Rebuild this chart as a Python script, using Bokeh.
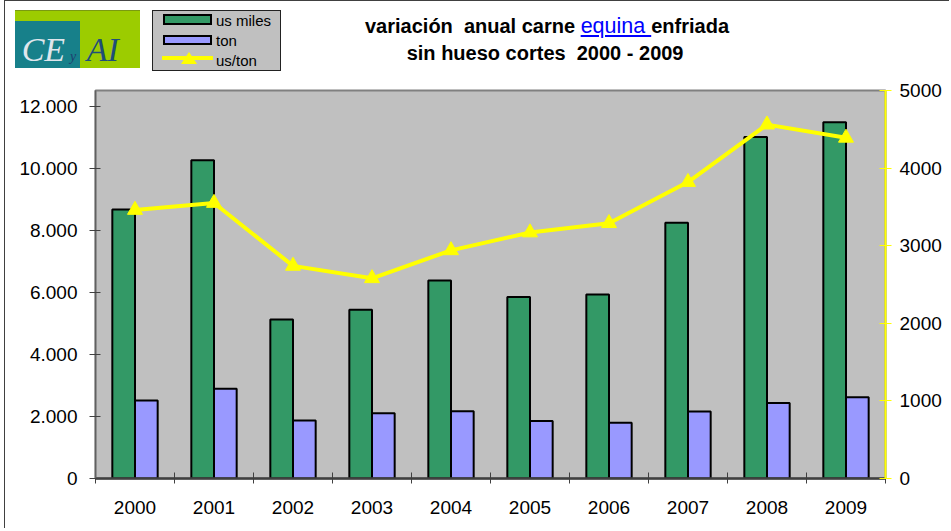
from bokeh.plotting import figure
from bokeh.models import Range1d, LinearAxis, FixedTicker, ColumnDataSource, Div
from bokeh.transform import dodge
from bokeh.layouts import column
from bokeh.embed import file_html
from bokeh.resources import INLINE

# ---------------- data ----------------
years = ["2000", "2001", "2002", "2003", "2004", "2005", "2006", "2007", "2008", "2009"]
us_miles = [8670, 10250, 5120, 5440, 6380, 5850, 5930, 8240, 11000, 11480]
ton = [2510, 2890, 1870, 2100, 2170, 1850, 1800, 2160, 2430, 2620]
us_ton = [3460, 3550, 2740, 2580, 2940, 3170, 3290, 3820, 4560, 4390]

left_ticks = [0, 2000, 4000, 6000, 8000, 10000, 12000]
left_tick_labels = ["0", "2.000", "4.000", "6.000", "8.000", "10.000", "12.000"]
right_ticks = [0, 1000, 2000, 3000, 4000, 5000]
legend_labels = ["us miles", "ton", "us/ton"]
title_line1 = ("variación  anual carne ", "equina ", "enfriada")
title_line2 = "sin hueso cortes  2000 - 2009"

FONT_NAME = "Liberation Sans"
GREEN = "#339966"
BLUE = "#9999ff"
YELLOW = "#ffff00"
W = 944
HH = 72

idx = list(range(len(years)))
src = ColumnDataSource(dict(idx=idx, miles=us_miles, ton=ton, uston=us_ton))

# ---------------- main chart ----------------
p = figure(width=W, height=455, x_range=Range1d(-0.5, len(years) - 0.5),
           y_range=Range1d(0, 12500), output_backend="svg", toolbar_location=None,
           min_border_left=90, min_border_right=64, min_border_top=17, min_border_bottom=50,
           background_fill_color="#c0c0c0", border_fill_color="white",
           outline_line_color="#808080", outline_line_width=2)
p.extra_y_ranges = {"r": Range1d(0, 5000)}
p.grid.visible = False

p.vbar(x=dodge("idx", -0.1435), top="miles", width=0.287, source=src,
       fill_color=GREEN, line_color="black", line_width=2)
p.vbar(x=dodge("idx", 0.1435), top="ton", width=0.287, source=src,
       fill_color=BLUE, line_color="black", line_width=2)
p.line(x="idx", y="uston", source=src, y_range_name="r", line_color=YELLOW, line_width=4)
p.scatter(x="idx", y="uston", source=src, y_range_name="r", marker="triangle", size=15,
          fill_color=YELLOW, line_color=YELLOW)

xa = p.xaxis[0]
xa.ticker = FixedTicker(ticks=idx, minor_ticks=[i - 0.5 for i in range(len(years) + 1)])
xa.major_label_overrides = {i: y for i, y in zip(idx, years)}
xa.major_tick_line_color = None
xa.minor_tick_in = 6
xa.minor_tick_out = 5
xa.minor_tick_line_color = "#404040"
xa.axis_line_color = "#404040"
xa.axis_line_width = 2.5
xa.major_label_standoff = 16
xa.major_label_text_font = FONT_NAME
xa.major_label_text_font_size = "19px"
xa.major_label_text_color = "black"

ya = p.yaxis[0]
ya.ticker = FixedTicker(ticks=left_ticks)
ya.major_label_overrides = {t: s for t, s in zip(left_ticks, left_tick_labels)}
ya.major_tick_in = 5
ya.major_tick_out = 6
ya.major_tick_line_color = "#404040"
ya.minor_tick_line_color = None
ya.axis_line_color = "#606060"
ya.axis_line_width = 1.5
ya.major_label_standoff = 12
ya.major_label_text_font = FONT_NAME
ya.major_label_text_font_size = "19px"
ya.major_label_text_color = "black"

ra = LinearAxis(y_range_name="r", ticker=FixedTicker(ticks=right_ticks))
ra.axis_line_color = YELLOW
ra.axis_line_width = 2
ra.major_tick_line_color = YELLOW
ra.major_tick_in = 6
ra.major_tick_out = 6
ra.minor_tick_line_color = None
ra.major_label_standoff = 8
ra.major_label_text_font = FONT_NAME
ra.major_label_text_font_size = "19px"
ra.major_label_text_color = "black"
p.add_layout(ra, "right")

# ---------------- header (logo, legend, title) as HTML ----------------


def box(left, top, w, h, extra):
    return (f'<div style="position:absolute;left:{left}px;top:{top}px;width:{w}px;'
            f'height:{h}px;box-sizing:border-box;{extra}"></div>')


def txt(left, top, s, extra):
    return (f'<span style="position:absolute;left:{left}px;top:{top}px;white-space:pre;'
            f'{extra}">{s}</span>')


serif = "font-family:'Liberation Serif',serif;font-style:italic;"
sans = f"font-family:'{FONT_NAME}',Arial,sans-serif;"

parts = []
# logo
parts.append(box(10.3, 9, 124.7, 58.3, "background:#9ccc00;border-top:1px solid #7a9a10;"))
parts.append(box(10.3, 19.7, 64.7, 47.6, "background:#17808a;"))
parts.append(txt(16.7, 32.2, "CE", serif + "font-size:34px;line-height:34px;color:#dfe6ec;"))
parts.append(txt(65, 49, "y", serif + "font-size:14px;line-height:14px;color:#1f3f6f;"))
parts.append(txt(81.7, 32.2, "AI", serif + "font-size:34px;line-height:34px;color:#1f4e79;"))
# legend
parts.append(box(147, 9, 129, 61, "background:#c0c0c0;border:1.5px solid #222;"))
parts.append(box(158.3, 13.3, 48.4, 10.7, f"background:{GREEN};border:2px solid black;"))
parts.append(box(158.3, 34, 48.4, 10, f"background:{BLUE};border:2px solid black;"))
parts.append(box(157, 55.3, 51, 4, f"background:{YELLOW};"))
parts.append('<svg style="position:absolute;left:176px;top:51.3px;" width="16" height="12">'
             f'<polygon points="8,0 16,12 0,12" fill="{YELLOW}"/></svg>')
for lab, top in zip(legend_labels, [12.3, 32, 52]):
    parts.append(txt(211, top, lab, sans + "font-size:15px;line-height:15px;color:black;"))
# title
a, b, c = title_line1
line1 = (f'{a}<span style="font-weight:normal;font-size:21.5px;color:#0000ff;'
         f'text-decoration:underline;">{b}</span>{c}')
parts.append(txt(360, 15.1, line1, sans + "font-size:20px;line-height:20px;font-weight:bold;color:black;"))
parts.append(txt(401.7, 42.1, title_line2, sans + "font-size:20px;line-height:20px;font-weight:bold;color:black;"))

html = f'<div style="position:relative;width:{W}px;height:{HH}px;">' + "".join(parts) + "</div>"
header = Div(text=html, width=W, height=HH, margin=0)

layout = column(header, p, margin=(0, 0, 0, 4),
                styles={"border-left": "1px solid #404040", "border-top": "1px solid #404040"})

open("out.html", "w").write(file_html(layout, INLINE))
